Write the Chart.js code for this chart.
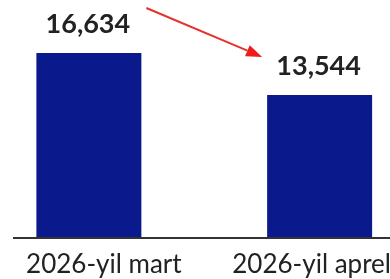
<!DOCTYPE html>
<html>
<head>
<meta charset="utf-8">
<script src="https://cdn.jsdelivr.net/npm/chart.js@4/dist/chart.umd.min.js"></script>
<style>
html,body{margin:0;padding:0;background:#fff;overflow:hidden;width:390px;height:279px;}
#wrap{position:absolute;left:-40px;top:0;width:480px;height:279px;}
</style>
</head>
<body>
<div id="wrap"><canvas id="c"></canvas></div>
<script>
const categories = ["2026-yil mart", "2026-yil aprel"];
const values = [16634, 13544];
const valueLabels = ["16,634", "13,544"];

const overlay = {
  id: 'overlay',
  afterDatasetsDraw(chart) {
    const ctx = chart.ctx;
    const meta = chart.getDatasetMeta(0);
    const area = chart.chartArea;
    const xs = chart.scales.x;
    ctx.save();
    // axis line
    ctx.strokeStyle = '#333';
    ctx.lineWidth = 2;
    ctx.beginPath();
    ctx.moveTo(area.left + 39.5, area.bottom);
    ctx.lineTo(chart.width, area.bottom);
    ctx.stroke();
    // category labels
    const shift = [15, -8];
    ctx.fillStyle = '#222';
    ctx.font = '26px Lato';
    ctx.textAlign = 'center';
    ctx.textBaseline = 'alphabetic';
    categories.forEach((c, i) => {
      ctx.fillText(c, xs.getPixelForValue(i) + shift[i], area.bottom + 35);
    });
    // value labels
    ctx.font = 'bold 27px Lato';
    meta.data.forEach((bar, i) => {
      ctx.fillText(valueLabels[i], bar.x - 1, bar.y - 20);
    });
    // arrow
    const b1 = meta.data[0], b2 = meta.data[1];
    const x1 = b1.x + b1.width / 2 + 5, y1 = area.top + 8;
    const x2 = b2.x - b2.width / 2 - 5, y2 = b2.y - 38;
    const ang = Math.atan2(y2 - y1, x2 - x1);
    const hl = 16, hw = 6;
    const bx = x2 - hl * Math.cos(ang), by = y2 - hl * Math.sin(ang);
    ctx.strokeStyle = '#e8302c';
    ctx.fillStyle = '#f01a1a';
    ctx.lineWidth = 2;
    ctx.beginPath();
    ctx.moveTo(x1, y1);
    ctx.lineTo(bx, by);
    ctx.stroke();
    ctx.beginPath();
    ctx.moveTo(x2, y2);
    ctx.lineTo(bx + hw * Math.sin(ang), by - hw * Math.cos(ang));
    ctx.lineTo(bx - hw * Math.sin(ang), by + hw * Math.cos(ang));
    ctx.closePath();
    ctx.fill();
    ctx.restore();
  }
};

new Chart(document.getElementById('c'), {
  type: 'bar',
  data: {
    labels: categories,
    datasets: [{
      data: values,
      backgroundColor: '#0a1a8c',
      borderWidth: 0,
      barPercentage: 0.455,
      categoryPercentage: 1
    }]
  },
  options: {
    responsive: true,
    maintainAspectRatio: false,
    animation: false,
    layout: { padding: { left: 13.5, right: 5, top: 0, bottom: 41 } },
    plugins: { legend: { display: false }, tooltip: { enabled: false } },
    scales: {
      x: { display: false },
      y: {
        display: false,
        min: 3000,
        max: 20540
      }
    }
  },
  plugins: [overlay]
});
</script>
</body>
</html>
